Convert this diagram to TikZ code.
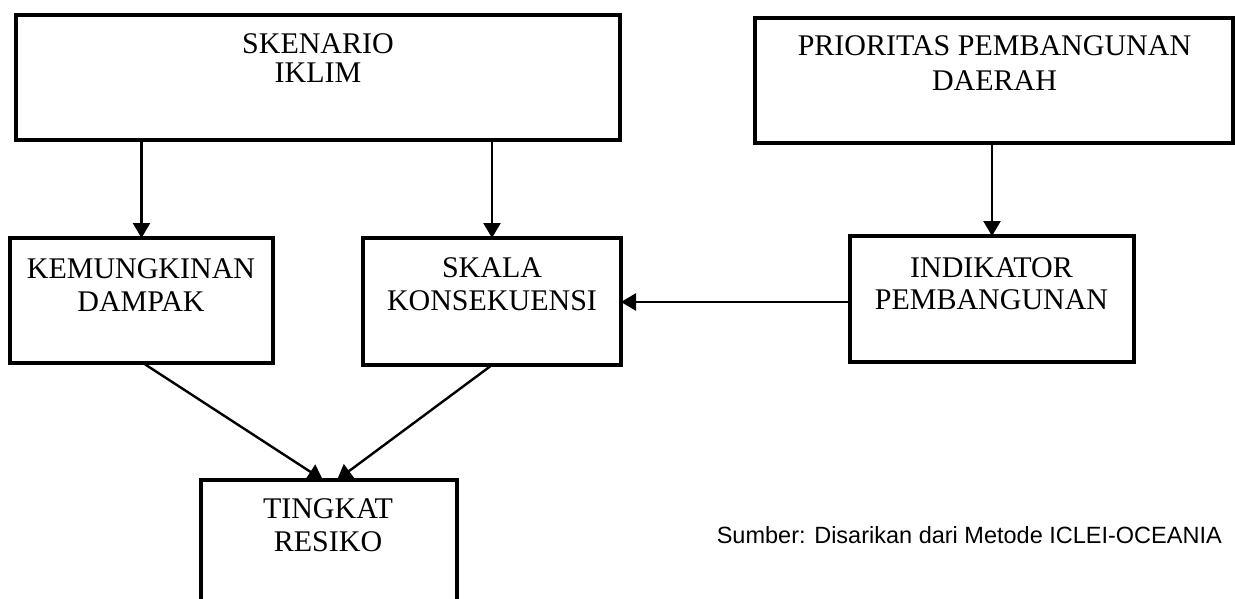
\documentclass[tikz,border=0pt]{standalone}
\usepackage{fontspec}
\setmainfont{Liberation Serif}
\newfontfamily\capfont{Liberation Sans}
\usetikzlibrary{arrows.meta}
\tikzset{
  boxnode/.style={draw=black, line width=3.5pt, inner sep=0pt, outer sep=0pt, fill=none},
  lbl/.style={anchor=north, inner sep=0pt, align=center, font=\fontsize{30}{33}\selectfont},
  arr/.style={draw=black, line width=2.4pt, -{Triangle[length=15pt,width=17pt]}},
}
\begin{document}
\begin{tikzpicture}[x=1pt,y=-1pt]
\useasboundingbox (0,0) rectangle (1235,599);
\clip (0,0) rectangle (1235,599);
% boxes
\node[boxnode, minimum width=604pt, minimum height=125pt] (sk) at (318,77.5) {};
\node[boxnode, minimum width=478pt, minimum height=125pt] (pr) at (994,80.5) {};
\node[boxnode, minimum width=263pt, minimum height=125pt] (ke) at (141.5,300.5) {};
\node[boxnode, minimum width=258pt, minimum height=127pt] (sc) at (492,301.5) {};
\node[boxnode, minimum width=284pt, minimum height=126pt] (in) at (992,299) {};
\node[boxnode, minimum width=256pt, minimum height=160pt] (ti) at (329,560) {};
% labels
\node[lbl, font=\fontsize{30}{29}\selectfont] (skt) at (318,33) {SKENARIO\\IKLIM};
\node[lbl, font=\fontsize{30}{35}\selectfont] (prt) at (994.5,35) {PRIORITAS PEMBANGUNAN\\DAERAH};
\node[lbl] (ket) at (141,258) {KEMUNGKINAN\\DAMPAK};
\node[lbl] (sct) at (492,257) {SKALA\\KONSEKUENSI};
\node[lbl, font=\fontsize{30}{32}\selectfont] (int) at (991.5,257) {INDIKATOR\\PEMBANGUNAN};
\node[lbl] (tit) at (328,498) {TINGKAT\\RESIKO};
\node[anchor=base east, inner sep=0pt, font=\capfont\fontsize{23.5}{28}\selectfont] (src) at (1222,543) {Sumber: Disarikan dari Metode ICLEI-OCEANIA};
% connectors
\draw[arr] (ke.north |- sk.south) -- (ke.north);
\draw[arr] (sc.north |- sk.south) -- (sc.north);
\draw[arr] (in.north |- pr.south) -- (in.north);
\draw[arr] (in.west |- 0,302) -- (sc.east |- 0,302);
\coordinate (tl) at ([xshift=-6pt]ti.north);
\coordinate (tr) at ([xshift=8pt]ti.north);
\coordinate (ks) at ([xshift=1.5pt]ke.south);
\draw[arr] (ks) -- (tl);
\draw[arr] (sc.south) -- (tr);
\end{tikzpicture}
\end{document}
